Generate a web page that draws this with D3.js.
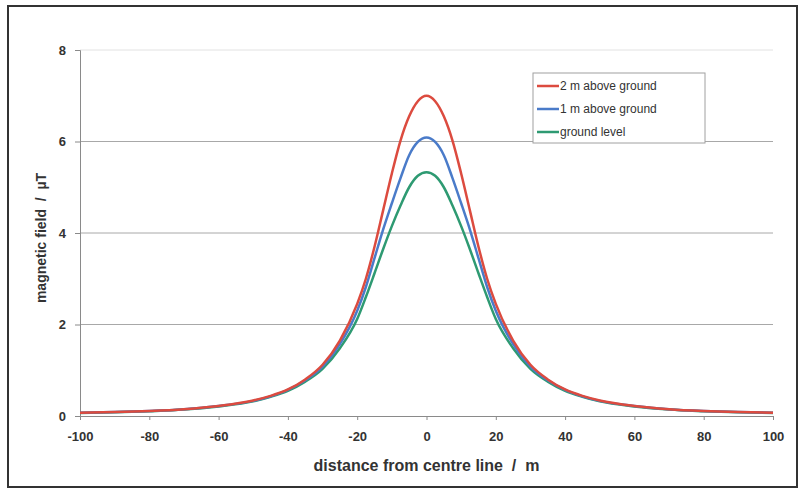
<!DOCTYPE html>
<html>
<head>
<meta charset="utf-8">
<script src="https://cdn.jsdelivr.net/npm/d3@7"></script>
<style>
  body { margin: 0; background: #fff; }
  text { font-family: "Liberation Sans", Arial, sans-serif; }
</style>
</head>
<body>
<div id="d3-container"></div>
<script>
// Distancias desde la línea central (m)
const distancias = [-100, -90, -80, -70, -60, -50, -45, -40, -35, -30, -25, -20, -17.5, -15, -12.5, -10, -7.5, -5, -2.5,
    0, 2.5, 5, 7.5, 10, 12.5, 15, 17.5, 20, 25, 30, 35, 40, 45, 50, 60, 70, 80, 90, 100];

// Campo magnético (µT)
const dosMetros = [0.07, 0.085, 0.11, 0.15, 0.22, 0.34, 0.44, 0.58, 0.8, 1.12, 1.65, 2.45, 3.0, 3.7, 4.5, 5.3, 6.02, 6.55, 6.88,
    7.0, 6.88, 6.55, 6.02, 5.3, 4.5, 3.7, 3.0, 2.45, 1.65, 1.12, 0.8, 0.58, 0.44, 0.34, 0.22, 0.15, 0.11, 0.085, 0.07];
const unMetro = [0.07, 0.085, 0.11, 0.15, 0.22, 0.33, 0.43, 0.57, 0.78, 1.08, 1.57, 2.3, 2.82, 3.45, 4.08, 4.65, 5.2, 5.7, 5.99,
    6.09, 5.99, 5.7, 5.2, 4.65, 4.08, 3.45, 2.82, 2.3, 1.57, 1.08, 0.78, 0.57, 0.43, 0.33, 0.22, 0.15, 0.11, 0.085, 0.07];
const suelo = [0.065, 0.08, 0.105, 0.14, 0.21, 0.32, 0.42, 0.55, 0.75, 1.03, 1.48, 2.12, 2.6, 3.12, 3.65, 4.15, 4.6, 5.0, 5.25,
    5.33, 5.25, 5.0, 4.6, 4.15, 3.65, 3.12, 2.6, 2.12, 1.48, 1.03, 0.75, 0.55, 0.42, 0.32, 0.21, 0.14, 0.105, 0.08, 0.065];

const series = [
    { nombre: '2 m above ground', valores: dosMetros, color: '#dc4b3f' },
    { nombre: '1 m above ground', valores: unMetro, color: '#4a7bc9' },
    { nombre: 'ground level', valores: suelo, color: '#2e9a72' }
];

const ticksX = [-100, -80, -60, -40, -20, 0, 20, 40, 60, 80, 100];
const ticksY = [0, 2, 4, 6, 8];

const width = 802;
const height = 500;
const margin = { top: 50, bottom: 84, left: 80, right: 29 };

const svg = d3.select('#d3-container')
    .append('svg')
    .attr('width', width)
    .attr('height', height);

// Marco exterior
svg.append('rect')
    .attr('x', 8).attr('y', 6)
    .attr('width', 789).attr('height', 481)
    .attr('fill', 'none')
    .attr('stroke', '#333')
    .attr('stroke-width', 2);

const x = d3.scaleLinear()
    .domain([-100, 100])
    .range([margin.left, width - margin.right]);

const y = d3.scaleLinear()
    .domain([0, 8])
    .range([height - margin.bottom, margin.top]);

// Rejilla horizontal
svg.append('g')
    .selectAll('line')
    .data(ticksY.filter(d => d > 0))
    .join('line')
    .attr('x1', x(-100)).attr('x2', x(100))
    .attr('y1', d => y(d)).attr('y2', d => y(d))
    .attr('stroke', d => d === 8 ? '#e2e2e2' : '#a8a8a8')
    .attr('stroke-width', 1);

// Ejes
function ejeX(g) {
    g.attr('transform', `translate(0, ${y(0)})`)
        .call(d3.axisBottom(x).tickValues(ticksX).tickSize(4).tickPadding(12).tickFormat(d => d.toString()))
        .call(g => g.select('.domain').attr('stroke', '#8a8a8a'))
        .call(g => g.selectAll('.tick line').attr('stroke', '#8a8a8a'))
        .attr('font-size', '13px')
        .attr('font-weight', 'bold')
        .call(g => g.selectAll('.tick text').attr('fill', '#333'));
}

function ejeY(g) {
    g.attr('transform', `translate(${x(-100)}, 0)`)
        .call(d3.axisLeft(y).tickValues(ticksY).tickSize(5).tickPadding(9))
        .call(g => g.select('.domain').attr('stroke', '#8a8a8a'))
        .call(g => g.selectAll('.tick line').attr('stroke', '#8a8a8a'))
        .attr('font-size', '13px')
        .attr('font-weight', 'bold')
        .call(g => g.selectAll('.tick text').attr('fill', '#333'));
}

svg.append('g').call(ejeX);
svg.append('g').call(ejeY);

// Curvas
const linea = d3.line()
    .x((d, i) => x(distancias[i]))
    .y(d => y(d))
    .curve(d3.curveMonotoneX);

svg.append('g')
    .selectAll('path')
    .data(series.slice().reverse())
    .join('path')
    .attr('d', d => linea(d.valores))
    .attr('fill', 'none')
    .attr('stroke', d => d.color)
    .attr('stroke-width', 2.5);

// Títulos de los ejes
svg.append('text')
    .attr('x', (x(-100) + x(100)) / 2)
    .attr('y', 471)
    .attr('text-anchor', 'middle')
    .attr('font-size', '16px')
    .attr('font-weight', 'bold')
    .attr('fill', '#333')
    .attr('xml:space', 'preserve')
    .text('distance from centre line  /  m');

svg.append('text')
    .attr('transform', `translate(46, 238) rotate(-90)`)
    .attr('text-anchor', 'middle')
    .attr('font-size', '14px')
    .attr('font-weight', 'bold')
    .attr('fill', '#333')
    .attr('xml:space', 'preserve')
    .text('magnetic field  /  µT');

// Leyenda
const leyenda = svg.append('g').attr('transform', 'translate(533, 73)');
leyenda.append('rect')
    .attr('width', 172).attr('height', 70)
    .attr('fill', '#fff')
    .attr('stroke', '#a0a0a0');

const item = leyenda.selectAll('g')
    .data(series)
    .join('g')
    .attr('transform', (d, i) => `translate(0, ${13 + i * 23})`);

item.append('line')
    .attr('x1', 4).attr('x2', 26)
    .attr('stroke', d => d.color)
    .attr('stroke-width', 2.5);

item.append('text')
    .attr('x', 27)
    .attr('dy', '0.35em')
    .attr('font-size', '12px')
    .attr('fill', '#333')
    .text(d => d.nombre);

svg.node();
</script>
</body>
</html>
